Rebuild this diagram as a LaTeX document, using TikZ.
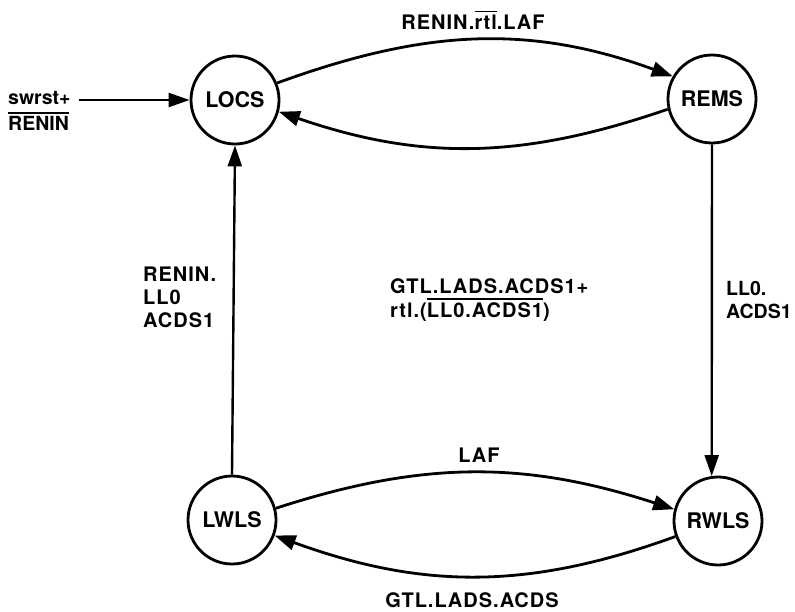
\documentclass[tikz,border=0pt]{standalone}
\usepackage{fontspec}
\setmainfont{TeX Gyre Heros}
\newfontfamily\lblfont{TeX Gyre Heros}[LetterSpace=5.0]
\usetikzlibrary{arrows.meta}
\newcommand\ovl[1]{\sbox0{#1}\rlap{\rule[\dimexpr\ht0+2.2pt\relax]{\wd0}{1.7pt}}\usebox0}
\tikzset{
  state/.style={circle, draw, line width=2.8pt, minimum size=88pt, inner sep=0pt,
    font=\fontsize{21.5}{24}\selectfont\bfseries},
  lbl/.style={inner sep=0pt, font=\lblfont\fontsize{20}{23}\selectfont\bfseries},
  conn/.style={line width=2.8pt, -{Triangle[length=21pt,width=15pt]}},
  vconn/.style={line width=2.4pt, -{Triangle[length=21pt,width=14pt]}},
}
\begin{document}
\begin{tikzpicture}[x=1pt,y=-1pt]
\useasboundingbox (0,0) rectangle (795,611);
\node[state] (LOCS) at (235,100) {LOCS};
\node[state] (REMS) at (712,99) {REMS};
\node[state] (LWLS) at (232,520) {LWLS};
\node[state] (RWLS) at (718,521) {RWLS};
\coordinate (in) at (79,100);
\node[lbl, anchor=west, align=left, font=\fontsize{19.5}{23}\selectfont\bfseries] (inlbl) at (8,111) {swrst+\\[3pt]\ovl{RENIN}};
\draw[vconn] (in) -- (LOCS);
\draw[conn] (LOCS.22) to[out=20,in=160] (REMS.150);
\draw[conn] (REMS.193) to[out=199,in=-19] (LOCS.-15);
\draw[conn] (LWLS.15) to[out=18,in=162] (RWLS.165);
\draw[conn] (RWLS.200) to[out=200,in=-20] (LWLS.-20);
\draw[vconn] (LWLS.north) -- (LOCS.south);
\draw[vconn] (REMS.south) -- (RWLS.98);
\node[lbl] (top) at (473,20) {RENIN.\ovl{rtl}.LAF};
\node[lbl] (laf) at (479,455) {LAF};
\node[lbl] (bot) at (472,600) {GTL.LADS.ACDS};
\node[lbl, anchor=north west, align=left] (left) at (143,267) {RENIN.\\LL0\\ACDS1};
\node[lbl, anchor=north west, align=left] (mid) at (390,278) {GTL.LADS.ACDS1+\\[1pt]rtl.(\ovl{LL0.ACDS1})};
\node[lbl, anchor=north west, align=left, font=\fontsize{19.5}{23}\selectfont\bfseries] (right) at (726,281) {LL0.\\ACDS1};
\end{tikzpicture}
\end{document}
